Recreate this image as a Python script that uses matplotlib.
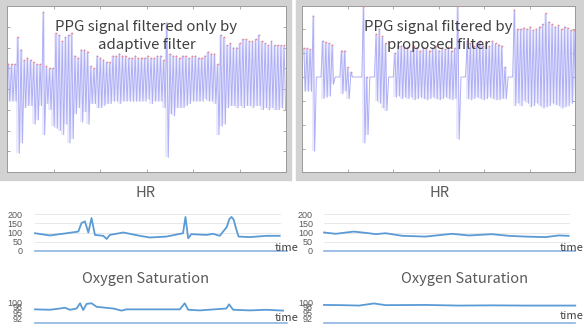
import numpy as np
import matplotlib
matplotlib.use('Agg')
import matplotlib.pyplot as plt
from matplotlib.patches import Rectangle

W, H = 584, 336

# PPG beats, left panel (only adaptive filter): peak / trough per beat
left_peaks = [5.2, 5.2, 5.2, 6.5, 5.9, 5.4, 5.5, 5.4, 5.3, 5.2,
              5.2, 7.7, 5.1, 5.0, 5.0, 6.7, 6.6, 6.3, 6.5, 6.6,
              6.7, 5.6, 5.5, 5.9, 5.9, 5.8, 5.1, 5.0, 5.6, 5.5,
              5.4, 5.3, 5.3, 5.6, 5.6, 5.7, 5.6, 5.6, 5.5, 5.5,
              5.6, 5.5, 5.5, 5.5, 5.6, 5.5, 5.5, 5.6, 5.6, 5.4,
              7.2, 5.7, 5.6, 5.6, 5.5, 5.6, 5.6, 5.5, 5.6, 5.6,
              5.5, 5.5, 5.6, 5.8, 5.7, 5.7, 5.2, 6.6, 6.5, 6.1,
              6.2, 6.0, 6.0, 6.2, 6.4, 6.4, 6.3, 6.3, 6.4, 6.6,
              6.3, 6.2, 6.1, 6.3, 6.1, 6.1, 6.1, 6.1]
left_troughs = [3.4, 3.4, 3.4, 0.9, 1.4, 3.1, 3.2, 3.2, 2.3, 2.5,
                3.2, 1.8, 3.3, 3.0, 2.2, 2.1, 2.0, 1.8, 2.3, 1.4,
                1.6, 2.8, 3.1, 2.4, 2.9, 2.3, 3.3, 3.3, 3.1, 3.1,
                3.2, 3.3, 3.3, 3.4, 3.4, 3.3, 3.4, 3.4, 3.4, 3.4,
                3.4, 3.4, 3.4, 3.4, 3.5, 3.3, 3.4, 3.4, 3.4, 3.1,
                0.7, 2.8, 2.7, 3.1, 3.1, 3.1, 3.2, 3.3, 3.4, 3.4,
                3.4, 3.4, 3.5, 3.4, 3.4, 3.3, 1.8, 2.2, 2.3, 3.1,
                3.2, 3.2, 3.1, 3.2, 3.1, 3.2, 3.2, 3.1, 3.2, 3.2,
                3.0, 3.1, 3.0, 3.1, 3.0, 3.0, 3.1, 3.0]

# PPG beats, right panel (proposed filter), 0/0 = flat (rejected) segment
right_peaks = [1.2, 1.2, 1.15, 2.55, 0, 0, 1.5, 1.45, 1.4, 1.35,
               0, 0, 1.1, 1.1, 0.4, 0.2, 0, 0, 0, 2.95,
               0, 0, 0, 1.8, 2.0, 1.7, 1.4, 0, 0,
               1.0, 1.3, 1.3, 1.2, 1.25, 1.1, 1.3, 1.2, 1.1, 1.25,
               1.2, 1.1, 1.2, 1.3, 1.1, 1.2, 1.15, 1.25, 1.1, 1.2,
               2.95, 0, 0,
               1.5, 1.4, 1.3, 1.4, 1.5, 1.3, 1.4, 1.3, 1.5, 1.4, 1.35, 1.3,
               0.4, 0, 0, 2.8,
               2.0, 2.0, 2.05, 2.0, 2.1, 1.95, 2.0, 2.1, 2.2, 2.65,
               2.3, 2.2, 2.1, 2.15, 2.0, 2.1, 2.05, 1.95, 1.95]
right_troughs = [-0.6, -0.6, -0.6, -3.1, 0, 0, -0.9, -0.85, -0.8, -0.3,
                 0, 0, -0.7, -0.6, -0.9, 0, 0, 0, 0, -2.75,
                 -2.4, 0, 0, -1.0, -1.1, -1.3, -1.4, 0, 0,
                 -0.85, -0.8, -0.9, -0.85, -0.9, -0.85, -0.95, -0.9, -0.85, -0.9,
                 -0.95, -0.9, -0.85, -0.9, -0.95, -0.9, -0.85, -0.9, -0.95, -0.9,
                 -2.6, 0, 0,
                 -0.9, -0.95, -0.9, -0.85, -0.9, -0.95, -0.9, -0.85, -0.9, -0.95, -0.95, -0.9,
                 -0.9, 0, 0, -1.2,
                 -1.1, -1.2, -1.0, -1.1, -1.25, -1.2, -1.1, -1.2, -1.3, -1.25,
                 -1.2, -1.1, -1.15, -1.2, -1.3, -1.25, -1.2, -1.1, -1.05]

# heart rate and SpO2 traces (time in % of record)
hr_left_t = [0, 6.1, 12.9, 17.7, 19.0, 20.4, 21.8, 23.1, 24.5, 27.9, 29.3, 30.6, 36.1,
             42.9, 46.9, 53.7, 60.5, 61.5, 62.6, 63.9, 70.1, 72.8, 75.5, 78.4, 79.4,
             80.3, 81.2, 82.2, 83.2, 87.8, 94.6, 100]
hr_left = [96, 84, 96, 105, 151, 160, 100, 178, 87, 82, 65, 87, 100,
           82, 73, 78, 96, 184, 69, 91, 87, 93, 82, 130, 172,
           184, 170, 120, 78, 75, 82, 82]
hr_right_t = [0, 4.8, 12.2, 18.4, 21.1, 25.2, 32.0, 41.5, 52.4, 59.2, 68.7, 75.5,
              82.3, 90.5, 95.9, 100]
hr_right = [100, 93, 105, 96, 91, 96, 82, 78, 93, 84, 91, 82, 78, 75, 84, 82]

spo2_left_t = [0, 6.1, 10.2, 12.2, 14.3, 17.0, 18.4, 19.7, 21.1, 23.1, 25.2, 32.0,
               35.4, 37.4, 59.2, 61.2, 62.6, 67.3, 78.2, 79.3, 81.0, 87.8, 94.6, 101.4]
spo2_left = [96.5, 96.3, 96.9, 97.3, 96.3, 96.9, 99.4, 96.2, 99.1, 99.4, 97.7, 96.9,
             95.9, 96.5, 96.5, 99.4, 96.3, 96.0, 96.9, 98.9, 96.3, 96.0, 96.3, 95.9]
spo2_right_t = [0, 7.5, 14.3, 20.4, 25.2, 41.5, 55.1, 68.7, 82.3, 102.7]
spo2_right = [98.6, 98.5, 98.3, 99.3, 98.5, 98.6, 98.3, 98.4, 98.3, 98.3]

hr_ticks = [0, 50, 100, 150, 200]
spo2_ticks = [92, 95, 98, 100]


def box(x0, y0, x1, y1):
    return [x0 / W, 1 - y1 / H, (x1 - x0) / W, (y1 - y0) / H]


fig = plt.figure(figsize=(W / 100, H / 100), dpi=100)
fig.patch.set_facecolor('white')
plt.rcParams['font.family'] = ['Noto Sans', 'DejaVu Sans']

# grey window frames behind the top panels
for fx0, fx1 in [(0, 291), (296, 584)]:
    fig.patches.append(Rectangle((fx0 / W, 1 - 180 / H), (fx1 - fx0) / W, 180 / H,
                                 transform=fig.transFigure, color='#d2d2d2', zorder=-5))


def ppg_panel(rect, peaks, troughs, t0, t1, ylim, yticks, title):
    ax = fig.add_axes(rect)
    ax.set_zorder(2)
    ax.set_facecolor('white')
    peaks = np.array(peaks)
    troughs = np.array(troughs)
    n = len(peaks)
    t = np.linspace(t0, t1, n)
    dt = t[1] - t[0]
    xs = np.empty(2 * n)
    ys = np.empty(2 * n)
    xs[0::2] = t
    xs[1::2] = t + 0.45 * dt
    ys[0::2] = peaks
    ys[1::2] = troughs
    ax.fill_between(t, troughs, peaks, step='mid', color='#ebebfd', lw=0, zorder=1)
    ax.plot(xs, ys, color='#afaff6', lw=0.7, zorder=2)
    live = peaks != troughs
    ax.plot(t[live], peaks[live], 'o', ms=1.2, color='#f08a8a', mew=0, zorder=3)
    ax.set_xlim(0, 6)
    ax.set_ylim(*ylim)
    ax.set_xticks([1, 2, 3, 4, 5])
    ax.set_yticks(yticks)
    ax.tick_params(direction='in', length=2.5, width=0.5, colors='#888888',
                   top=True, right=True, labelleft=False, labelbottom=False)
    for s in ax.spines.values():
        s.set_color('#9a9a9a')
        s.set_linewidth(0.7)
    ax.text(0.5, 0.82, title, transform=ax.transAxes, ha='center', va='center',
            fontsize=10.8, color='#404040', linespacing=1.3, zorder=5,
            family=['Noto Sans CJK KR', 'DejaVu Sans'])
    return ax


ppg_panel(box(7, 6, 286, 172), left_peaks, left_troughs, 0.03, 5.96, (0, 8),
          [1, 2, 3, 4, 5, 6, 7], 'PPG signal filtered only by\nadaptive filter')
ppg_panel(box(302, 6, 575, 172), right_peaks, right_troughs, 0.04, 5.98, (-3.96, 2.96),
          [-3, -2, -1, 0, 1, 2], 'PPG signal filtered by\nproposed filter')


def trend_panel(rect, t, v, ylim, ticks, xmax, grid, pad):
    ax = fig.add_axes(rect)
    ax.set_facecolor('none')
    ax.set_xlim(0, xmax)
    ax.set_ylim(*ylim)
    if grid:
        for g in ticks[1:]:
            ax.plot([0, 100], [g, g], color='#e4e4e4', lw=0.6, zorder=1)
    ax.plot([0, xmax], [ylim[0], ylim[0]], color='#8fb4e0', lw=1.2, zorder=2,
            clip_on=False)
    ax.plot(t, v, color='#5b9bd5', lw=1.3, zorder=3, clip_on=False)
    ax.set_yticks(ticks)
    ax.set_yticklabels([str(k) for k in ticks])
    ax.set_xticks([])
    ax.tick_params(axis='y', length=0, pad=pad, labelsize=6.5, labelcolor='#595959')
    for lab in ax.get_yticklabels():
        lab.set_family(['Liberation Sans Narrow', 'Liberation Sans'])
    for s in ax.spines.values():
        s.set_visible(False)
    return ax


trend_panel(box(35, 214, 287, 251), hr_left_t, hr_left, (0, 200), hr_ticks, 103, True, 9)
trend_panel(box(324, 214, 575, 251), hr_right_t, hr_right, (0, 200), hr_ticks, 102.6, True, 8)
trend_panel(box(35, 302, 287, 323), spo2_left_t, spo2_left, (90, 100), spo2_ticks, 103, False, 9)
trend_panel(box(324, 302, 575, 323), spo2_right_t, spo2_right, (90, 100), spo2_ticks, 102.6, False, 8)

title_kw = dict(ha='center', va='center', fontsize=10.5, color='#595959',
                family=['Noto Sans CJK KR', 'DejaVu Sans'])
fig.text(146 / W, 1 - 193 / H, 'HR', **title_kw)
fig.text(440 / W, 1 - 193 / H, 'HR', **title_kw)
fig.text(146 / W, 1 - 279 / H, 'Oxygen Saturation', **title_kw)
fig.text(465 / W, 1 - 279 / H, 'Oxygen Saturation', **title_kw)

time_kw = dict(ha='left', va='center', fontsize=8, color='#404040',
               family=['Noto Sans CJK KR', 'DejaVu Sans'])
fig.text(275 / W, 1 - 248 / H, 'time', **time_kw)
fig.text(560 / W, 1 - 248 / H, 'time', **time_kw)
fig.text(275 / W, 1 - 318 / H, 'time', **time_kw)
fig.text(560 / W, 1 - 316 / H, 'time', **time_kw)

fig.savefig('out.png', dpi=100)
